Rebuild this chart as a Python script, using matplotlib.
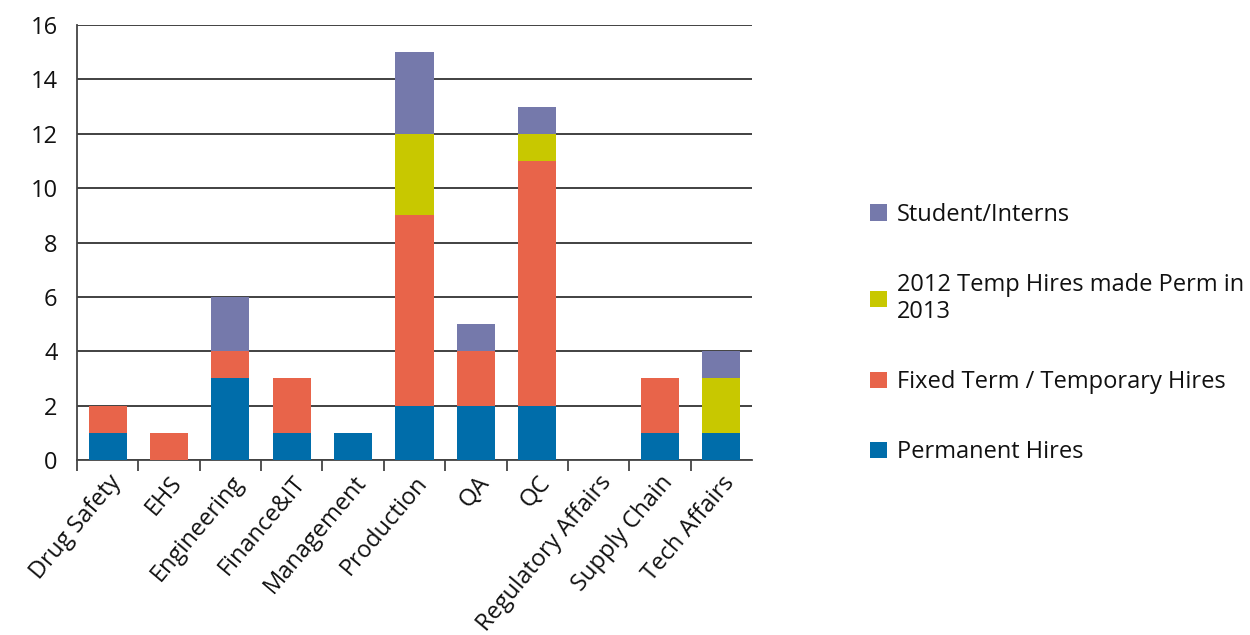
import numpy as np
import matplotlib
matplotlib.use('Agg')
import matplotlib.pyplot as plt
from matplotlib.patches import Patch

departments = ['Drug Safety', 'EHS', 'Engineering', 'Finance&IT', 'Management',
               'Production', 'QA', 'QC', 'Regulatory Affairs', 'Supply Chain',
               'Tech Affairs']
permanent = [1, 0, 3, 1, 1, 2, 2, 2, 0, 1, 1]
fixed_term = [1, 1, 1, 2, 0, 7, 2, 9, 0, 2, 0]
made_perm = [0, 0, 0, 0, 0, 3, 0, 1, 0, 0, 2]
students = [0, 0, 2, 0, 0, 3, 1, 1, 0, 0, 1]

series = [
    ('Permanent Hires', permanent, '#006DAA'),
    ('Fixed Term / Temporary Hires', fixed_term, '#E8644A'),
    ('2012 Temp Hires made Perm in\n2013', made_perm, '#C8C800'),
    ('Student/Interns', students, '#7579AB'),
]

plt.rcParams['font.family'] = ['Open Sans', 'DejaVu Sans']
plt.rcParams['font.size'] = 17

fig = plt.figure(figsize=(12.5, 6.35), dpi=100)
ax = fig.add_axes([0.0616, 0.2756, 0.54, 0.685])

x = np.arange(len(departments))
bottom = np.zeros(len(departments))
for label, values, color in series:
    ax.bar(x, values, width=0.62, bottom=bottom, color=color, label=label, zorder=3)
    bottom += np.array(values)

ax.set_xlim(-0.5, len(departments) - 0.5)
ax.set_ylim(0, 16)
ax.set_yticks(range(0, 17, 2))
ax.yaxis.grid(True, color='#333333', linewidth=1.3, zorder=0)
ax.tick_params(axis='y', length=0, pad=14, labelcolor='#111111')

ax.set_xticks(x)
ax.set_xticklabels(departments, rotation=50, ha='right', rotation_mode='anchor',
                   color='#111111', fontsize=17)
ax.set_xticks(np.arange(-0.5, len(departments) - 1), minor=True)
ax.tick_params(axis='x', which='major', length=0, pad=8)
ax.tick_params(axis='x', which='minor', length=8, width=1.3, color='#444444')

for side in ['top', 'right']:
    ax.spines[side].set_visible(False)
ax.spines['left'].set_color('#444444')
ax.spines['bottom'].set_color('#444444')
ax.spines['left'].set_linewidth(1.3)
ax.spines['bottom'].set_linewidth(1.3)

handles = [Patch(facecolor=c, label=l) for l, v, c in series][::-1]
fig.legend(handles=handles, loc='center left', bbox_to_anchor=(0.679, 0.475),
           frameon=False, handlelength=0.7, handleheight=0.7,
           handletextpad=0.45, labelspacing=1.95, fontsize=17,
           labelcolor='#111111')

fig.savefig('out.png', dpi=100)
